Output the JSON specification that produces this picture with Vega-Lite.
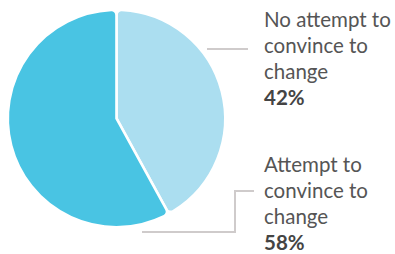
{
  "$schema": "https://vega.github.io/schema/vega-lite/v6.json",
  "width": 395,
  "height": 254,
  "autosize": {"type": "none"},
  "padding": 0,
  "background": "white",
  "config": {"view": {"stroke": null}},
  "data": {
    "values": [
      {"label": "No attempt to convince to change", "lines": ["No attempt to", "convince to", "change"], "value": 42, "pct": "42%"},
      {"label": "Attempt to convince to change", "lines": ["Attempt to", "convince to", "change"], "value": 58, "pct": "58%"}
    ]
  },
  "resolve": {"scale": {"y": "shared"}},
  "layer": [
    {
      "mark": {"type": "arc", "x": 116.5, "y": 118.5, "radius": 108.7, "cornerRadius": 5, "stroke": "white", "strokeWidth": 2.6},
      "encoding": {
        "theta": {"field": "value", "type": "quantitative", "stack": true},
        "order": {"field": "value", "type": "quantitative", "sort": "ascending"},
        "color": {
          "field": "label",
          "type": "nominal",
          "scale": {"domain": ["No attempt to convince to change", "Attempt to convince to change"], "range": ["#ABDEF0", "#49C4E3"]},
          "legend": null
        }
      }
    },
    {
      "mark": {"type": "text", "x": 264, "align": "left", "baseline": "alphabetic", "font": "Lato", "fontSize": 20.5, "lineHeight": 26, "color": "#555555"},
      "encoding": {
        "y": {"field": "label", "type": "nominal", "scale": {"type": "point", "padding": 0, "domain": ["No attempt to convince to change", "Attempt to convince to change"], "range": [27, 172]}, "axis": null},
        "text": {"field": "lines"}
      }
    },
    {
      "mark": {"type": "text", "x": 264, "dy": 78, "align": "left", "baseline": "alphabetic", "font": "Lato", "fontSize": 20.5, "fontWeight": "bold", "color": "#444444"},
      "encoding": {
        "y": {"field": "label", "type": "nominal", "axis": null},
        "text": {"field": "pct"}
      }
    },
    {
      "data": {"values": [{"seg": "a"}]},
      "mark": {"type": "rule", "color": "#cfcbcb", "strokeWidth": 2},
      "encoding": {"x": {"value": 207}, "x2": {"value": 248}, "y": {"value": 49}}
    },
    {
      "data": {"values": [{"seg": "b"}]},
      "mark": {"type": "rule", "color": "#cfcbcb", "strokeWidth": 2},
      "encoding": {"x": {"value": 142}, "x2": {"value": 236}, "y": {"value": 232}}
    },
    {
      "data": {"values": [{"seg": "c"}]},
      "mark": {"type": "rule", "color": "#cfcbcb", "strokeWidth": 2},
      "encoding": {"x": {"value": 235}, "y": {"value": 190}, "y2": {"value": 233}}
    },
    {
      "data": {"values": [{"seg": "d"}]},
      "mark": {"type": "rule", "color": "#cfcbcb", "strokeWidth": 2},
      "encoding": {"x": {"value": 234}, "x2": {"value": 254}, "y": {"value": 191}}
    }
  ]
}
